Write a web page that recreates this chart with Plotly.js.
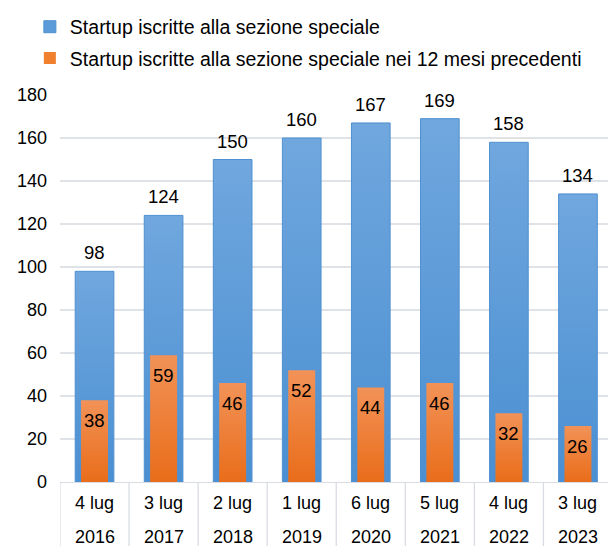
<!DOCTYPE html>
<html>
<head>
<meta charset="utf-8">
<script src="https://cdn.plot.ly/plotly-3.0.1.min.js"></script>
<style>html,body{margin:0;padding:0;background:#fff;}</style>
</head>
<body>
<div id="chart" style="width:608px;height:546px;"></div>
<script>
const dayLabels = ["4 lug","3 lug","2 lug","1 lug","6 lug","5 lug","4 lug","3 lug"];
const yearLabels = ["2016","2017","2018","2019","2020","2021","2022","2023"];
const totalStartup = [98,124,150,160,167,169,158,134];
const newStartup12m = [38,59,46,52,44,46,32,26];
const seriesNames = ["Startup iscritte alla sezione speciale","Startup iscritte alla sezione speciale nei 12 mesi precedenti"];

const FONT = "Liberation Sans, Arial, sans-serif";
const xs = dayLabels.map((_, i) => i);

const traces = [
  {type:'bar', x: xs, y: totalStartup, name: seriesNames[0], width: 0.56,
   legendgroup:'a',
   marker:{color:'#5b9bd9', line:{color:'#4f90d0', width:1}}, hoverinfo:'y'},
  {type:'bar', x: xs, y: newStartup12m, name: seriesNames[1], width: 0.39,
   legendgroup:'b',
   marker:{color:'#f07f2e', line:{width:0}}, hoverinfo:'y'}
];

const annotations = [];
xs.forEach(i => {
  annotations.push({xref:'x', yref:'y', x:i, y:totalStartup[i], text:String(totalStartup[i]),
    showarrow:false, yanchor:'bottom', yshift:6, font:{family:FONT,size:18.5,color:'#000'}});
  annotations.push({xref:'x', yref:'y', x:i, y:newStartup12m[i], text:String(newStartup12m[i]),
    showarrow:false, yanchor:'top', yshift:-8, font:{family:FONT,size:18.5,color:'#000'}});
  annotations.push({xref:'x', yref:'paper', x:i, y:0, text:dayLabels[i],
    showarrow:false, yanchor:'middle', yshift:-21, font:{family:FONT,size:18,color:'#000'}});
  annotations.push({xref:'x', yref:'paper', x:i, y:0, text:yearLabels[i],
    showarrow:false, yanchor:'middle', yshift:-55, font:{family:FONT,size:18,color:'#000'}});
});

const shapes = [];
for (let i = 0; i <= xs.length; i++) {
  shapes.push({type:'line', xref:'x', yref:'paper', x0:i-0.5, x1:i-0.5, y0:0, y1:-0.2,
    line:{color:'#d9dde3', width:1.3}});
}

const layout = {
  width:608, height:546,
  margin:{l:60, r:0, t:95, b:64},
  paper_bgcolor:'#fff', plot_bgcolor:'#fff',
  barmode:'overlay',
  font:{family:FONT, size:18, color:'#000'},
  showlegend:true,
  legend:{x:-0.055, xanchor:'left', y:1.226, yanchor:'top', orientation:'v',
    traceorder:'grouped', tracegroupgap:3,
    font:{family:FONT, size:19.5, color:'#000'}, bgcolor:'rgba(0,0,0,0)'},
  xaxis:{type:'linear', range:[-0.5, 7.435], showgrid:false, zeroline:false,
    showticklabels:false, ticks:'', showline:true, linecolor:'#d9dde3', linewidth:1.3, fixedrange:true},
  yaxis:{range:[0,180], dtick:20, tick0:0, showgrid:true, gridcolor:'#dfe3e8', gridwidth:1.3,
    zeroline:false, showline:false, ticks:'', ticklabelstandoff:12,
    tickfont:{family:FONT, size:18, color:'#000'}, fixedrange:true},
  annotations: annotations,
  shapes: shapes
};

Plotly.newPlot('chart', traces, layout, {staticPlot:true, displayModeBar:false}).then(gd => {
  const svg = gd.querySelector('svg.main-svg');
  const ns = 'http://www.w3.org/2000/svg';
  let defs = svg.querySelector('defs');
  if (!defs) { defs = document.createElementNS(ns,'defs'); svg.insertBefore(defs, svg.firstChild); }
  function grad(id, top, bottom) {
    const g = document.createElementNS(ns,'linearGradient');
    g.setAttribute('id', id);
    g.setAttribute('x1','0'); g.setAttribute('y1','0'); g.setAttribute('x2','0'); g.setAttribute('y2','1');
    [[0,top],[1,bottom]].forEach(([o,c]) => {
      const s = document.createElementNS(ns,'stop');
      s.setAttribute('offset', o); s.setAttribute('stop-color', c);
      g.appendChild(s);
    });
    defs.appendChild(g);
  }
  grad('gBlue', '#70a7de', '#4a8fd2');
  grad('gOrange', '#f29257', '#e96d1a');
  const traceGroups = gd.querySelectorAll('.barlayer .trace');
  const ids = ['gBlue','gOrange'];
  traceGroups.forEach((t, k) => {
    t.querySelectorAll('path').forEach(p => { p.style.fill = 'url(#' + ids[k] + ')'; });
  });
});
</script>
</body>
</html>
